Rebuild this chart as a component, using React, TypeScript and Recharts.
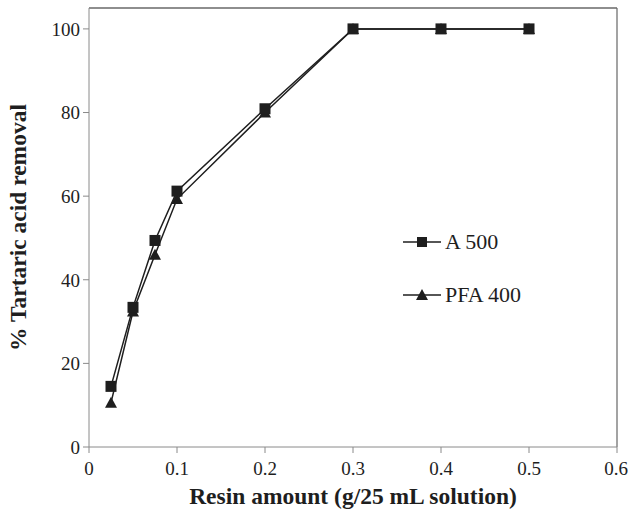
import React from "react";
import { LineChart, Line, XAxis, YAxis, ReferenceLine } from "recharts";

const resinAmounts = [0.025, 0.05, 0.075, 0.1, 0.2, 0.3, 0.4, 0.5];
const a500 = [14.5, 33.4, 49.4, 61.2, 80.9, 100, 100, 100];
const pfa400 = [10.6, 32.4, 46.0, 59.3, 80.0, 100, 100, 100];
const xTicks = [0, 0.1, 0.2, 0.3, 0.4, 0.5, 0.6];
const yTicks = [0, 20, 40, 60, 80, 100];
const seriesNames = ["A 500", "PFA 400"];

const data = resinAmounts.map((x, i) => ({ x, a500: a500[i], pfa400: pfa400[i] }));

const FONT = '"Liberation Serif", "Times New Roman", serif';
const INK = "#1e1e1e";

const Square = (props: any) => {
  const { cx, cy } = props;
  if (cx == null || cy == null) return null;
  return <rect x={cx - 5.5} y={cy - 5.5} width={11} height={11} fill={INK} />;
};

const Triangle = (props: any) => {
  const { cx, cy } = props;
  if (cx == null || cy == null) return null;
  return <path d={`M${cx},${cy - 6} L${cx + 6},${cy + 5} L${cx - 6},${cy + 5} Z`} fill={INK} />;
};

const LegendOverlay = () => (
  <svg
    width={160}
    height={90}
    style={{ position: "absolute", left: 403, top: 232, overflow: "visible" }}
  >
    <line x1={0} y1={10} x2={38} y2={10} stroke={INK} strokeWidth={1.5} />
    <rect x={14} y={5} width={10} height={10} fill={INK} />
    <text x={42} y={17} fontFamily={FONT} fontSize={22} fill={INK}>{seriesNames[0]}</text>
    <line x1={0} y1={63} x2={38} y2={63} stroke={INK} strokeWidth={1.5} />
    <path d="M19,57 L25,68 L13,68 Z" fill={INK} />
    <text x={42} y={70} fontFamily={FONT} fontSize={22} fill={INK}>{seriesNames[1]}</text>
  </svg>
);

export default function App() {
  return (
    <div style={{ position: "absolute", left: 0, top: 0, width: 628, height: 518, background: "#fff" }}>
      <LineChart width={628} height={518} data={data} margin={{ top: 8, right: 11, bottom: 41, left: 29 }}>
        <XAxis
          dataKey="x"
          type="number"
          domain={[0, 0.6]}
          ticks={xTicks}
          tickFormatter={(v: number) => (v === 0 ? "0" : String(v))}
          height={30}
          stroke="#8a8a8a"
          tickSize={6}
          tickMargin={9}
          tick={{ fill: INK, fontFamily: FONT, fontSize: 19 }}
          label={{
            value: "Resin amount (g/25 mL solution)",
            position: "insideBottom",
            offset: -27,
            style: { fontFamily: FONT, fontSize: 23.5, fontWeight: "bold", fill: INK },
          }}
        />
        <YAxis
          type="number"
          domain={[0, 105]}
          ticks={yTicks}
          width={60}
          stroke="#8a8a8a"
          tickSize={6}
          tickMargin={3}
          tick={{ fill: INK, fontFamily: FONT, fontSize: 19 }}
          label={{
            value: "% Tartaric acid removal",
            angle: -90,
            position: "insideLeft",
            offset: -11,
            style: { fontFamily: FONT, fontSize: 23.5, fontWeight: "bold", fill: INK, textAnchor: "middle" },
          }}
        />
        <ReferenceLine y={105} stroke={INK} strokeWidth={1.2} />
        <ReferenceLine x={0.6} stroke="#666" strokeWidth={1.2} />
        <Line
          dataKey="pfa400"
          name={seriesNames[1]}
          stroke={INK}
          strokeWidth={1.5}
          dot={<Triangle />}
          isAnimationActive={false}
        />
        <Line
          dataKey="a500"
          name={seriesNames[0]}
          stroke={INK}
          strokeWidth={1.5}
          dot={<Square />}
          isAnimationActive={false}
        />
      </LineChart>
      <LegendOverlay />
    </div>
  );
}
